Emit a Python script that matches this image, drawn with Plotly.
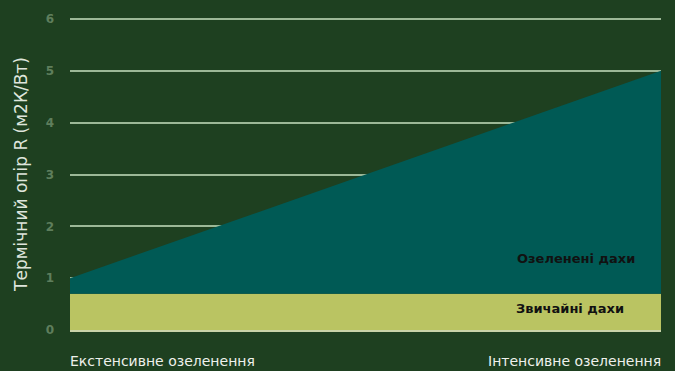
import plotly.graph_objects as go

# Data
x_positions = [0, 1]
x_labels = ["Екстенсивне озеленення", "Інтенсивне озеленення"]
conventional_roofs = [0.7, 0.7]
green_roofs = [1.0, 5.0]
series_names = ["Звичайні дахи", "Озеленені дахи"]
y_ticks = [0, 1, 2, 3, 4, 5, 6]

BG = "#1e4020"
TEAL = "#005a55"
YELLOW = "#bac462"
GRID = "#9cb897"
TICK = "#5e7e5c"
FONT = "'DejaVu Sans', sans-serif"

fig = go.Figure()
fig.add_trace(go.Scatter(
    x=x_positions, y=conventional_roofs, name=series_names[0],
    mode="lines", line=dict(width=0, color=YELLOW),
    fill="tozeroy", fillcolor=YELLOW, showlegend=False))
fig.add_trace(go.Scatter(
    x=x_positions, y=green_roofs, name=series_names[1],
    mode="lines", line=dict(width=0, color=TEAL),
    fill="tonexty", fillcolor=TEAL, showlegend=False))

fig.update_layout(
    width=675, height=371,
    margin=dict(l=70, r=14, t=15, b=41),
    paper_bgcolor=BG, plot_bgcolor=BG,
    font=dict(family=FONT),
    xaxis=dict(range=[0, 1], showgrid=False, showticklabels=False,
               zeroline=False, showline=True, linecolor="#c9d3a8",
               linewidth=2),
    yaxis=dict(range=[0, 6.02], tickvals=y_ticks, showgrid=True,
               gridcolor=GRID, gridwidth=2, zeroline=False,
               ticks="", ticklabelstandoff=15,
               tickfont=dict(size=12, color=TICK,
                             family="'DejaVu Sans', sans-serif", weight="bold"),
               title=dict(text="Термічний опір R (м2К/Вт)",
                          font=dict(size=17, color="#dfe5dc"), standoff=13)),
)

# bottom category labels
fig.add_annotation(x=x_positions[0], y=0, xref="x", yref="paper",
                   text=x_labels[0], showarrow=False, xanchor="left",
                   yanchor="top", yshift=-21, xshift=-2,
                   font=dict(size=14, color="#eef1ec"))
fig.add_annotation(x=x_positions[1], y=0, xref="x", yref="paper",
                   text=x_labels[1], showarrow=False, xanchor="right",
                   yanchor="top", yshift=-21, xshift=2,
                   font=dict(size=14, color="#eef1ec"))

# series labels inside areas
fig.add_annotation(x=0.96, y=1.38, xref="x", yref="y",
                   text="<b>" + series_names[1] + "</b>",
                   showarrow=False, xanchor="right", yanchor="middle",
                   font=dict(size=13, color="#111111"))
fig.add_annotation(x=0.94, y=0.42, xref="x", yref="y",
                   text="<b>" + series_names[0] + "</b>",
                   showarrow=False, xanchor="right", yanchor="middle",
                   font=dict(size=13, color="#111111"))

fig.write_html("out.html", config={"displayModeBar": False},
               post_script="document.body.style.margin='0';")
